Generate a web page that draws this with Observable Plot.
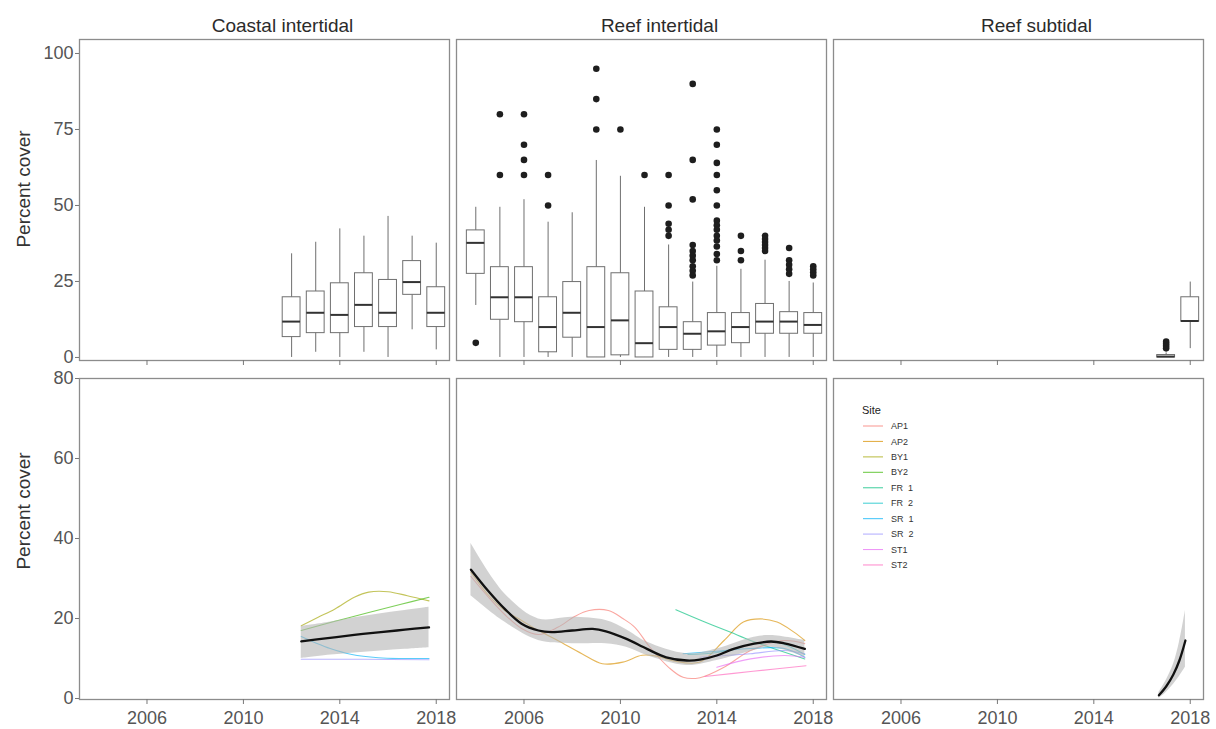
<!DOCTYPE html>
<html><head><meta charset="utf-8">
<script src="https://cdn.jsdelivr.net/npm/d3@7"></script>
<script src="https://cdn.jsdelivr.net/npm/@observablehq/plot@0.6"></script>
<style>
body{margin:0;background:#fff;font-family:"Liberation Sans",Arial,sans-serif;}
#wrap{position:relative;width:1216px;height:729px;overflow:hidden;}
#wrap svg{display:block;}
</style></head><body><div id="wrap"></div>
<script>
// ---------- categories ----------
const habitats = ["Coastal intertidal", "Reef intertidal", "Reef subtidal"];
const xTicks = [2006, 2010, 2014, 2018];
const yTicksTop = [0, 25, 50, 75, 100];
const yTicksBottom = [0, 20, 40, 60, 80];

// ---------- top row: boxplot summaries ----------
const coastalYears = [2012, 2013, 2014, 2015, 2016, 2017, 2018];
const coastalLow  = [0, 1.7, 0, 1.7, 0, 9.1, 2.5];
const coastalQ1   = [6.7, 8.0, 8.0, 10.0, 10.0, 20.6, 10.0];
const coastalMed  = [11.8, 14.7, 14.0, 17.3, 14.7, 24.8, 14.7];
const coastalQ3   = [19.8, 21.7, 24.4, 27.7, 25.5, 31.7, 23.1];
const coastalHigh = [34.1, 37.9, 42.3, 39.9, 46.4, 39.9, 37.6];

const reefYears = [2004, 2005, 2006, 2007, 2008, 2009, 2010, 2011, 2012, 2013, 2014, 2015, 2016, 2017, 2018];
const reefLow  = [17.1, 0, 0, 0, 0, 0, 0, 0, 0, 0, 0, 0, 0, 0, 0];
const reefQ1   = [27.5, 12.4, 11.6, 1.7, 6.5, 0, 0.7, 0, 2.5, 2.5, 3.9, 4.7, 7.8, 7.8, 7.8];
const reefMed  = [37.7, 19.8, 19.8, 10.0, 14.7, 10.0, 12.2, 4.7, 10.0, 7.8, 8.6, 10.0, 11.8, 11.8, 10.7];
const reefQ3   = [41.8, 29.7, 29.7, 19.8, 24.8, 29.7, 27.7, 21.7, 16.5, 11.6, 14.6, 14.6, 17.6, 14.9, 14.6];
const reefHigh = [49.4, 49.4, 51.9, 44.5, 47.6, 64.8, 59.6, 49.4, 37.0, 24.8, 30.0, 29.0, 32.0, 25.0, 24.5];

const subYears = [2017, 2018];
const subLow  = [0, 2.9];
const subQ1   = [0, 11.8];
const subMed  = [0.3, 12.0];
const subQ3   = [0.8, 19.8];
const subHigh = [1.5, 24.8];

// outliers (habitat, year, value)
const outReefYear = [2004, 2005, 2005, 2006, 2006, 2006, 2006, 2007, 2007, 2009, 2009, 2009, 2010, 2011,
  2012, 2012, 2012, 2012, 2012,
  2013, 2013, 2013, 2013, 2013, 2013, 2013, 2013, 2013, 2013,
  2014, 2014, 2014, 2014, 2014, 2014, 2014, 2014, 2014, 2014, 2014, 2014, 2014, 2014,
  2015, 2015, 2015,
  2016, 2016, 2016, 2016, 2016, 2016,
  2017, 2017, 2017, 2017, 2017,
  2018, 2018, 2018, 2018];
const outReefValue = [4.8, 80, 60, 80, 70, 65, 60, 60, 50, 95, 85, 75, 75, 60,
  60, 50, 44, 42, 40,
  90, 65, 52, 37, 35, 33.5, 32, 30, 28.5, 27,
  75, 70, 64, 60, 55, 50, 45, 43.5, 42, 40, 38.5, 36.5, 34, 32,
  40, 35, 32,
  40, 39, 38, 37, 36, 35,
  36, 32, 30.5, 29, 27.5,
  30, 29, 28, 27];
const outSubYear = [2017, 2017, 2017, 2017];
const outSubValue = [5.2, 4.5, 3.8, 3.0];

// ---------- bottom row: smoothed site trends ----------
const siteNames  = ["AP1", "AP2", "BY1", "BY2", "FR\u00a0\u00a01", "FR\u00a0\u00a02", "SR\u00a0\u00a01", "SR\u00a0\u00a02", "ST1", "ST2"];
const siteColors = ["#F8766D", "#D89000", "#A3A500", "#39B600", "#00BF7D", "#00BFC4", "#00B0F6", "#9590FF", "#E76BF3", "#FF62BC"];

// Coastal intertidal
const coBY1Year = [2012.4, 2013.1, 2013.8, 2014.6, 2015.2, 2016.0, 2016.8, 2017.7];
const coBY1Pct  = [18.2, 20.3, 22.4, 25.3, 26.6, 26.7, 25.7, 24.4];
const coBY2Year = [2012.4, 2013.8, 2015.2, 2016.5, 2017.7];
const coBY2Pct  = [17.0, 19.3, 21.5, 23.5, 25.3];
const coSR1Year = [2012.4, 2013.0, 2013.6, 2014.5, 2015.6, 2016.6, 2017.7];
const coSR1Pct  = [15.5, 13.9, 12.5, 11.0, 10.2, 10.0, 10.0];
const coSR2Year = [2012.4, 2015.0, 2017.7];
const coSR2Pct  = [9.8, 9.8, 9.7];
const coMeanYear = [2012.4, 2013.5, 2014.6, 2015.7, 2016.7, 2017.7];
const coMeanPct  = [14.3, 15.1, 15.9, 16.6, 17.2, 17.8];
const coLowPct   = [10.0, 10.8, 11.4, 11.9, 12.3, 12.7];
const coHighPct  = [18.0, 19.0, 20.2, 21.2, 22.0, 22.8];

// Reef intertidal
const rfAP1Year = [2003.8, 2004.5, 2005.2, 2005.9, 2006.6, 2007.4, 2008.1, 2008.7, 2009.5, 2010.1, 2010.6, 2011.2, 2012.0, 2012.6, 2013.3, 2014.3, 2015.4, 2016.8, 2017.65];
const rfAP1Pct  = [30.5, 25.5, 21.0, 17.5, 16.0, 17.8, 20.5, 22.0, 22.0, 20.0, 17.8, 13.0, 7.8, 5.3, 5.2, 7.8, 12.0, 14.5, 13.7];
const rfAP2Year = [2003.8, 2004.5, 2005.2, 2005.9, 2006.6, 2007.4, 2008.4, 2009.25, 2010.1, 2010.9, 2011.5, 2012.2, 2013.3, 2014.3, 2015.1, 2015.8, 2016.5, 2017.2, 2017.65];
const rfAP2Pct  = [31.5, 26.0, 22.0, 19.5, 17.0, 14.5, 11.2, 8.7, 9.1, 10.8, 10.6, 9.4, 9.1, 14.5, 19.1, 19.9, 19.1, 16.6, 14.5];
const rfFR1Year = [2012.3, 2013.4, 2014.55, 2015.4, 2016.5, 2017.65];
const rfFR1Pct  = [22.2, 19.4, 16.6, 14.5, 12.2, 9.9];
const rfFR2Year = [2012.8, 2014.0, 2015.4, 2016.5, 2017.65];
const rfFR2Pct  = [11.0, 11.5, 13.5, 14.0, 11.0];
const rfSR1Year = [2012.6, 2014.0, 2015.4, 2016.8, 2017.65];
const rfSR1Pct  = [11.2, 11.8, 12.5, 12.5, 10.3];
const rfSR2Year = [2013.3, 2014.5, 2015.4, 2016.8, 2017.65];
const rfSR2Pct  = [10.3, 10.8, 11.2, 12.0, 11.2];
const rfST1Year = [2014.0, 2015.4, 2016.8, 2017.65];
const rfST1Pct  = [7.8, 9.9, 10.75, 10.3];
const rfST2Year = [2013.5, 2015.5, 2017.7];
const rfST2Pct  = [5.5, 6.8, 8.2];
const rfMeanYear = [2003.8, 2004.5, 2005.2, 2005.9, 2006.6, 2007.15, 2008.0, 2008.85, 2009.4, 2010.25, 2011.1, 2011.9, 2012.75, 2013.3, 2014.0, 2014.7, 2015.55, 2016.25, 2016.8, 2017.65];
const rfMeanPct  = [32.2, 27.0, 22.4, 18.7, 17.0, 16.6, 17.0, 17.4, 16.8, 14.9, 12.4, 10.3, 9.5, 9.7, 10.75, 12.4, 13.7, 14.25, 13.8, 12.4];
const rfBandYear = [2003.8, 2005.2, 2006.6, 2008.0, 2009.4, 2010.25, 2011.1, 2012.75, 2014.0, 2015.55, 2016.25, 2017.65];
const rfLowPct   = [25.7, 19.1, 14.5, 13.7, 13.7, 12.8, 10.75, 8.25, 9.5, 12.0, 12.8, 10.3];
const rfHighPct  = [38.8, 26.2, 19.9, 20.3, 19.5, 17.2, 14.1, 11.2, 12.4, 15.3, 15.75, 14.5];

// Reef subtidal
const sbMeanYear = [2016.7, 2017.0, 2017.3, 2017.55, 2017.8];
const sbMeanPct  = [0.8, 3.0, 6.0, 9.5, 14.5];
const sbLowPct   = [0, 1.5, 3.5, 5.5, 7.8];
const sbHighPct  = [1.5, 4.5, 8.5, 14.0, 22.0];

// ---------- tables built from the arrays ----------
function boxRows(habitat, years, lo, q1, med, q3, hi) {
  return years.map((year, i) => ({habitat, year, low: lo[i], q1: q1[i], med: med[i], q3: q3[i], high: hi[i]}));
}
const boxes = [
  ...boxRows(habitats[0], coastalYears, coastalLow, coastalQ1, coastalMed, coastalQ3, coastalHigh),
  ...boxRows(habitats[1], reefYears, reefLow, reefQ1, reefMed, reefQ3, reefHigh),
  ...boxRows(habitats[2], subYears, subLow, subQ1, subMed, subQ3, subHigh)
];
const outliers = [
  ...outReefYear.map((year, i) => ({habitat: habitats[1], year, value: outReefValue[i]})),
  ...outSubYear.map((year, i) => ({habitat: habitats[2], year, value: outSubValue[i]}))
];
function series(habitat, site, years, vals) {
  return years.map((year, i) => ({habitat, site, year, value: vals[i]}));
}
const siteLines = [
  ...series(habitats[0], siteNames[2], coBY1Year, coBY1Pct),
  ...series(habitats[0], siteNames[3], coBY2Year, coBY2Pct),
  ...series(habitats[0], siteNames[6], coSR1Year, coSR1Pct),
  ...series(habitats[0], siteNames[7], coSR2Year, coSR2Pct),
  ...series(habitats[1], siteNames[0], rfAP1Year, rfAP1Pct),
  ...series(habitats[1], siteNames[1], rfAP2Year, rfAP2Pct),
  ...series(habitats[1], siteNames[4], rfFR1Year, rfFR1Pct),
  ...series(habitats[1], siteNames[5], rfFR2Year, rfFR2Pct),
  ...series(habitats[1], siteNames[6], rfSR1Year, rfSR1Pct),
  ...series(habitats[1], siteNames[7], rfSR2Year, rfSR2Pct),
  ...series(habitats[1], siteNames[8], rfST1Year, rfST1Pct),
  ...series(habitats[1], siteNames[9], rfST2Year, rfST2Pct)
];
const means = [
  ...series(habitats[0], "mean", coMeanYear, coMeanPct),
  ...series(habitats[1], "mean", rfMeanYear, rfMeanPct),
  ...series(habitats[2], "mean", sbMeanYear, sbMeanPct)
];
function band(habitat, years, lo, hi) {
  return years.map((year, i) => ({habitat, year, lo: lo[i], hi: hi[i]}));
}
const bands = [
  ...band(habitats[0], coMeanYear, coLowPct, coHighPct),
  ...band(habitats[1], rfBandYear, rfLowPct, rfHighPct),
  ...band(habitats[2], sbMeanYear, sbLowPct, sbHighPct)
];

// ---------- shared layout ----------
const FONT = "'Liberation Sans', Arial, Helvetica, sans-serif";
const common = {
  width: 1216,
  marginLeft: 78,
  marginRight: 13,
  style: {fontFamily: FONT, fontSize: "18px", color: "#555", background: "white", overflow: "visible"},
  fx: {domain: habitats, axis: null, paddingInner: 0.0186, paddingOuter: 0, label: null},
  x: {domain: [2003.2, 2018.55]}
};
const frameColor = "#8c8c8c";
const yTitle = (dy) => Plot.text(["Percent cover"], {
  fx: [habitats[0]], frameAnchor: "left", rotate: -90, dx: -56, dy,
  textAnchor: "middle", lineAnchor: "middle", fontSize: 19, fill: "#333"
});

// ---------- top row ----------
const topPlot = Plot.plot({
  ...common,
  height: 368, marginTop: 39, marginBottom: 8,
  y: {domain: [-1, 104.6]},
  marks: [
    Plot.ruleX(boxes, {fx: "habitat", x: "year", y1: "low", y2: "high", stroke: "#6f6f6f", strokeWidth: 1}),
    Plot.rect(boxes, {fx: "habitat", x1: d => d.year - 0.37, x2: d => d.year + 0.37, y1: "q1", y2: "q3",
      fill: "white", stroke: "#6f6f6f", strokeWidth: 1}),
    Plot.ruleY(boxes, {fx: "habitat", y: "med", x1: d => d.year - 0.37, x2: d => d.year + 0.37,
      stroke: "#333", strokeWidth: 2}),
    Plot.dot(outliers, {fx: "habitat", x: "year", y: "value", r: 3.3, fill: "#1e1e1e", stroke: "none"}),
    Plot.frame({stroke: frameColor, strokeWidth: 1.3}),
    Plot.axisX({ticks: xTicks, tickSize: 5, tickFormat: () => "", label: null, stroke: "#777", facetAnchor: "bottom"}),
    Plot.axisY({ticks: yTicksTop, tickSize: 4, tickPadding: 2, label: null, fontSize: 18, fill: "#555", stroke: "#777", facetAnchor: "left"}),
    Plot.text(habitats, {fx: d => d, text: d => d, frameAnchor: "top", dy: -14, dx: 18, lineAnchor: "middle",
      fontSize: 19, fill: "#2b2b2b"}),
    yTitle(-11)
  ]
});

// ---------- bottom row ----------
const bottomPlot = Plot.plot({
  ...common,
  height: 361, marginTop: 10, marginBottom: 30,
  y: {domain: [-0.25, 80]},
  color: {domain: siteNames, range: siteColors},
  marks: [
    Plot.line(siteLines, {fx: "habitat", x: "year", y: "value", z: "site", stroke: "site",
      strokeWidth: 1.1, strokeOpacity: 0.65, curve: "catmull-rom"}),
    Plot.areaY(bands, {fx: "habitat", x: "year", y1: "lo", y2: "hi", fill: "#b4b4b4", fillOpacity: 0.6, curve: "catmull-rom"}),
    Plot.line(means, {fx: "habitat", x: "year", y: "value", stroke: "#111", strokeWidth: 2.3, curve: "catmull-rom"}),
    Plot.frame({stroke: frameColor, strokeWidth: 1.3}),
    Plot.axisX({ticks: xTicks, tickSize: 5, tickPadding: 7, tickFormat: d => String(d), label: null,
      fontSize: 18, fill: "#555", stroke: "#777", facetAnchor: "bottom"}),
    Plot.axisY({ticks: yTicksBottom, tickSize: 4, tickPadding: 2, label: null, fontSize: 18, fill: "#555", stroke: "#777", facetAnchor: "left"}),
    yTitle(-28)
  ]
});

const wrap = document.getElementById("wrap");
wrap.append(topPlot, bottomPlot);

// ---------- legend (inside the Reef subtidal panel) ----------
const lg = d3.create("svg").attr("width", 1216).attr("height", 729)
  .style("position", "absolute").style("left", "0px").style("top", "0px").style("pointer-events", "none")
  .attr("font-family", FONT);
lg.append("text").attr("x", 862).attr("y", 414).attr("font-size", 11).attr("fill", "#222").text("Site");
const item = lg.selectAll("g.item").data(siteNames).join("g")
  .attr("transform", (d, i) => `translate(0,${426 + i * 15.44})`);
item.append("line").attr("x1", 863).attr("x2", 883).attr("y1", 0).attr("y2", 0)
  .attr("stroke", (d, i) => siteColors[i]).attr("stroke-width", 1.1).attr("stroke-opacity", 0.7);
item.append("text").attr("x", 891).attr("y", 0).attr("dy", "0.35em").attr("font-size", 9).attr("fill", "#333")
  .style("white-space", "pre").text(d => d);
wrap.append(lg.node());
</script></body></html>
